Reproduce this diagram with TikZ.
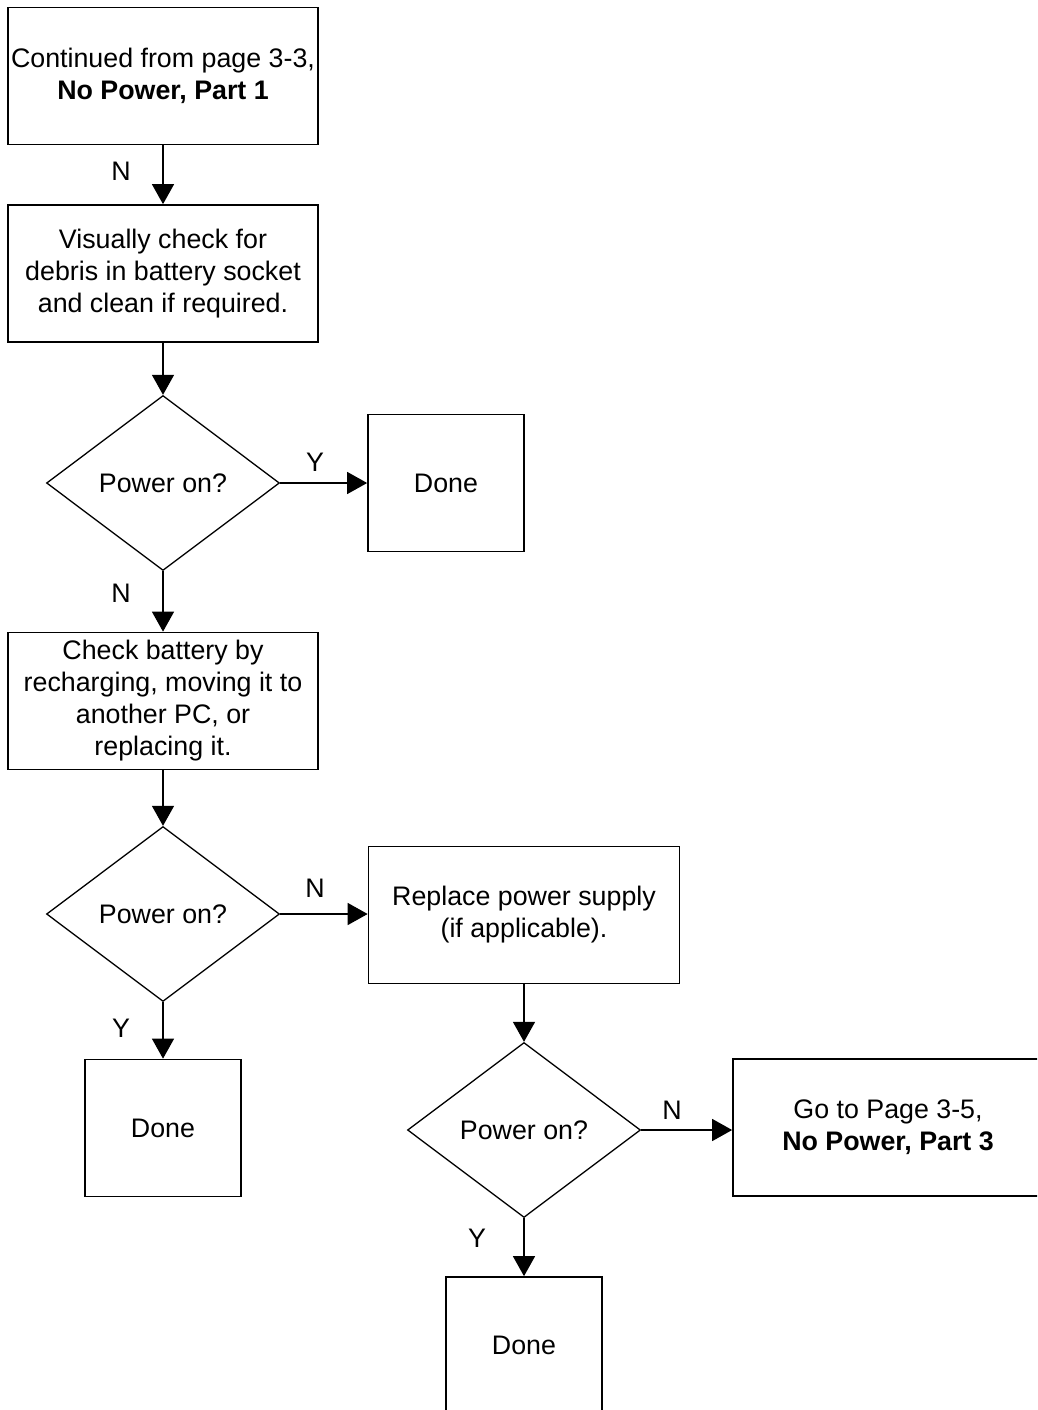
\documentclass[tikz,border=0pt]{standalone}
\usepackage{fontspec}
\setmainfont{Liberation Sans}
\usetikzlibrary{shapes.geometric,arrows.meta}
\begin{document}
\begin{tikzpicture}[x=1pt,y=-1pt,
  every node/.style={font=\fontsize{26.8}{32}\selectfont},
  box/.style={draw,line width=1.7pt,minimum width=310pt,minimum height=137pt,align=center,inner sep=0pt},
  donebox/.style={draw,line width=1.7pt,minimum width=156pt,minimum height=137pt,align=center,inner sep=0pt},
  decision/.style={draw,diamond,line width=1.3pt,minimum width=233pt,minimum height=175pt,aspect=1.33,inner sep=0pt},
  flow/.style={line width=1.3pt,-{Triangle[length=20pt,width=22pt]}},
  lbl/.style={inner sep=0pt}]
\useasboundingbox (0,0) rectangle (1037,1410);
\clip (0,0) rectangle (1037,1410);
\fill[white] (0,0) rectangle (1037,1410);
\node[box] (b1) at (163,76) {Continued from page 3-3,\\\textbf{No Power, Part 1}};
\node[box] (b2) at (163,273.5) {Visually check for\\debris in battery socket\\and clean if required.};
\node[decision] (d1) at (163,483) {Power on?};
\node[donebox] (done1) at (446,483) {Done};
\node[box] (b3) at (163,701) {Check battery by\\recharging, moving it to\\another PC, or\\replacing it.};
\node[decision] (d2) at (163,914) {Power on?};
\node[box,minimum width=311pt] (b4) at (524,915) {Replace power supply\\(if applicable).};
\node[donebox] (done2) at (163,1128) {Done};
\node[decision] (d3) at (524,1130) {Power on?};
\node[box] (b5) at (888,1127.5) {Go to Page 3-5,\\\textbf{No Power, Part 3}};
\node[donebox] (done3) at (524,1345.5) {Done};
\draw[flow] (b1) -- (b2);
\draw[flow] (b2) -- (d1);
\draw[flow] (d1) -- (done1);
\draw[flow] (d1) -- (b3);
\draw[flow] (b3) -- (d2);
\draw[flow] (d2) -- (b4.west |- d2.east);
\draw[flow] (d2) -- (done2);
\draw[flow] (b4) -- (d3);
\draw[flow] (d3) -- (b5.west |- d3.east);
\draw[flow] (d3) -- (done3);
\node[lbl] (l1) at (121,171) {N};
\node[lbl] (l2) at (315,462) {Y};
\node[lbl] (l3) at (121,593) {N};
\node[lbl] (l4) at (315,888) {N};
\node[lbl] (l5) at (121,1028) {Y};
\node[lbl] (l6) at (672,1110) {N};
\node[lbl] (l7) at (477,1238) {Y};
\end{tikzpicture}
\end{document}
